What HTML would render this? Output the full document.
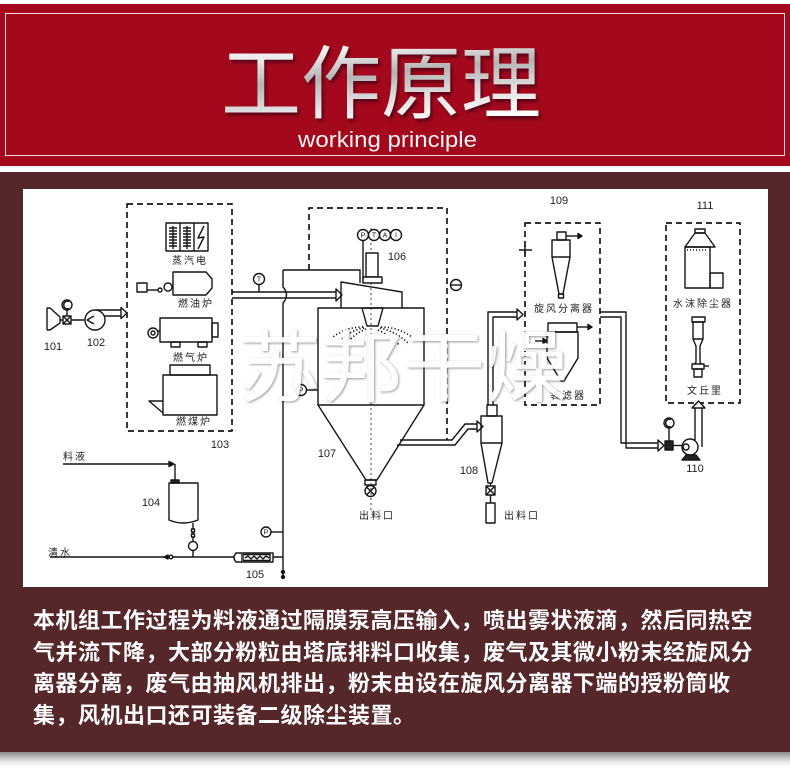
<!DOCTYPE html>
<html><head><meta charset="utf-8">
<style>
html,body{margin:0;padding:0;width:790px;height:768px;overflow:hidden;background:#fff;}
.t{position:absolute;left:33px;top:605px;color:#fff;font-family:"Liberation Sans","Noto Sans CJK SC",sans-serif;font-weight:bold;font-size:22px;letter-spacing:0.5px;line-height:31.7px;white-space:nowrap;}
</style></head><body>
<svg width="790" height="768" viewBox="0 0 790 768" style="position:absolute;left:0;top:0">
<defs>
<linearGradient id="sv" x1="0" y1="0" x2="0.25" y2="1">
<stop offset="0" stop-color="#ffffff"/>
<stop offset="0.35" stop-color="#ececec"/>
<stop offset="0.55" stop-color="#b4b4b4"/>
<stop offset="0.8" stop-color="#e6e6e6"/>
<stop offset="1" stop-color="#ffffff"/>
</linearGradient>
<linearGradient id="sh" x1="0" y1="0" x2="0" y2="1"><stop offset="0" stop-color="#8a8a8a"/><stop offset="0.6" stop-color="#e8e8e8"/><stop offset="1" stop-color="#fff"/></linearGradient>
<filter id="ds" x="-10%" y="-10%" width="130%" height="130%"><feDropShadow dx="2" dy="3" stdDeviation="1.5" flood-color="#3a0008" flood-opacity="0.7"/></filter>
<filter id="wm" x="-10%" y="-10%" width="130%" height="130%"><feDropShadow dx="1" dy="1" stdDeviation="1.2" flood-color="#000" flood-opacity="0.45"/></filter>
</defs>
<rect x="0" y="0" width="790" height="768" fill="#fff"/>
<rect x="0" y="4" width="790" height="162" fill="#a3081d"/>
<rect x="5.5" y="13.5" width="779" height="142" fill="none" stroke="#f3d6da" stroke-width="1"/>
<text x="221" y="112" font-family="Noto Sans CJK SC, sans-serif" font-size="80" fill="url(#sv)" filter="url(#ds)" textLength="320" lengthAdjust="spacingAndGlyphs">工作原理</text>
<text x="298" y="147" font-family="Liberation Sans, sans-serif" font-size="22" fill="#f5f5f5" textLength="179" lengthAdjust="spacingAndGlyphs">working principle</text>
<rect x="0" y="172" width="790" height="580" fill="#55272a"/>
<rect x="0" y="752" width="790" height="16" fill="url(#sh)"/>
<rect x="23" y="189" width="745" height="398" fill="#fff"/>

<g stroke="#151515" stroke-width="1.4" fill="none" stroke-linejoin="round">
<g stroke-dasharray="6 4" stroke-width="1.7">
<rect x="127" y="204" width="105" height="227"/>
<path d="M309,270 V208 H447 V440"/>
<rect x="525" y="223" width="75" height="182"/>
<rect x="666" y="223" width="74" height="180"/>
</g>

<rect x="166" y="223" width="42" height="28"/>
<line x1="180" y1="223" x2="180" y2="251"/>
<line x1="194" y1="223" x2="194" y2="251"/>
<path d="M173,226 V249 M169,228 H177 M169,231 H177 M169,234 H177 M169,237 H177 M169,240 H177 M169,243 H177 M169,246 H177"/>
<path d="M187,226 V249 M183,228 H191 M183,231 H191 M183,234 H191 M183,237 H191 M183,240 H191 M183,243 H191 M183,246 H191"/>
<path d="M204,226 L198,238 L204,237 L198,249"/>

<rect x="137" y="283" width="10" height="9"/>
<line x1="147" y1="290" x2="158" y2="290"/>
<circle cx="160" cy="290" r="2"/>
<circle cx="168" cy="287" r="4"/>
<path d="M173,272 H206 L212,279 V288 L206,295 H173 Z"/>

<rect x="160" y="318" width="52" height="24"/>
<rect x="212" y="323" width="6" height="14"/>
<circle cx="153" cy="333" r="5"/><circle cx="153" cy="333" r="2"/>
<line x1="158" y1="331" x2="160" y2="331"/>
<rect x="171" y="342" width="9" height="5"/><rect x="198" y="342" width="9" height="5"/>

<rect x="170" y="365" width="40" height="10"/>
<rect x="163" y="375" width="54" height="40"/>
<path d="M163,401 H149 L163,413"/>

<path d="M47,308 V330 M47,308 H50 L60,317 V323 L50,330 H47"/>
<line x1="60" y1="320" x2="85" y2="320"/>
<line x1="67" y1="310" x2="67" y2="316"/>
<rect x="63" y="316" width="8" height="8" fill="#fff"/>
<path d="M63,316 L71,324 M71,316 L63,324"/>
<circle cx="67" cy="305" r="5"/>
<path d="M69,301.5 A3.8,3.8 0 1 0 69,308.5"/>
<circle cx="95" cy="320" r="10" fill="#fff"/>
<path d="M87,320 L94,316 M87,320 L94,324"/>
<path d="M96,310 H122 M104,316 H122"/>
<polygon points="121,307.5 127,313 121,318.5" fill="#fff"/>

<path d="M283,270 V287 Q290,295 283,303 V577"/>
<path d="M232,292 H336 M232,298 H336"/>
<polygon points="336,289 342,295 336,301" fill="#fff"/>
<line x1="259" y1="284.5" x2="259" y2="292"/>
<circle cx="259" cy="279" r="5.5" fill="#fff"/>
<path d="M283,270 H360 V283"/>
<circle cx="456" cy="285" r="5.5" fill="#fff"/>
<line x1="451" y1="285" x2="461" y2="285"/>

<path d="M341,308 V282 L402,292 V308"/>
<rect x="318" y="308" width="106" height="97"/>
<path d="M318,405 L366,480 H377 L424,405"/>
<rect x="365" y="480" width="11" height="5"/>
<circle cx="370.5" cy="491" r="5.5" fill="#fff"/>
<path d="M366.5,487 L374.5,495 M374.5,487 L366.5,495"/>
<line x1="371" y1="228" x2="371" y2="512" stroke-dasharray="2 3" stroke-width="0.8"/>
<line x1="363" y1="240" x2="363" y2="283"/>
<rect x="366" y="253" width="12" height="24" fill="#fff"/>
<rect x="363" y="277" width="19" height="6" fill="#fff"/>
<circle cx="363" cy="235" r="5.5" fill="#fff"/>
<circle cx="374" cy="235" r="5.5" fill="#fff"/>
<circle cx="385" cy="235" r="5.5" fill="#fff"/>
<circle cx="396" cy="235" r="5.5" fill="#fff"/>
<polygon points="362,308 383,308 378,326 367,326"/>
<g stroke-dasharray="1.2 2.2" stroke-width="1.7">
<path d="M364,328 Q350,330 338,343"/>
<path d="M366,329 Q354,334 345,345"/>
<path d="M363,327 Q346,327 333,337"/>
<path d="M380,328 Q395,331 408,343"/>
<path d="M378,330 Q391,336 400,346"/>
<path d="M381,327 Q398,327 412,337"/>
</g>
<line x1="306.5" y1="390" x2="318" y2="390"/>
<circle cx="301" cy="390" r="5.5" fill="#fff"/>

<path d="M400,440 H452 L465,424 H477"/>
<path d="M397,445 H455 L468,429 H477"/>
<polygon points="477,421 483,426.5 477,432" fill="#fff"/>

<path d="M488,405 V312 H517"/>
<path d="M493,405 V317 H517"/>
<polygon points="517,309 523,314.5 517,320" fill="#fff"/>
<rect x="487" y="405" width="10" height="11" fill="#fff"/>
<rect x="481" y="416" width="21" height="27"/>
<path d="M481,443 L488,483 H492 L502,443"/>
<rect x="486" y="486" width="9" height="9"/>
<path d="M486,486 L495,495 M495,486 L486,495"/>
<line x1="490.5" y1="483" x2="490.5" y2="486"/>
<line x1="490.5" y1="495" x2="490.5" y2="503"/>
<rect x="486" y="503" width="9" height="20"/>

<path d="M519,250 H532 M525,246 V254"/>
<rect x="557" y="232" width="9" height="8"/>
<line x1="566" y1="236" x2="578" y2="236"/>
<polygon points="578,233.5 582,236 578,238.5" fill="#151515"/>
<rect x="552" y="240" width="18" height="17"/>
<path d="M552,257 L559,294 H563 L570,257"/>
<rect x="558.5" y="294" width="5" height="4"/>
<rect x="548" y="323" width="29" height="9"/>
<path d="M547,332 H578 V358 L564,381 H561 L547,358 Z"/>
<line x1="577" y1="327" x2="588" y2="327"/>
<polygon points="588,324.5 592,327 588,329.5" fill="#151515"/>
<line x1="535" y1="341" x2="543" y2="341"/>
<polygon points="543,338.5 547,341 543,343.5" fill="#151515"/>

<path d="M600,312 H626 V448 H658"/>
<path d="M600,317 H621 V443 H658"/>
<polygon points="658,440 664,445.5 658,451" fill="#fff"/>
<line x1="669" y1="428" x2="669" y2="441"/>
<circle cx="669" cy="423" r="5" fill="#fff"/>
<path d="M671,419.5 A3.8,3.8 0 1 0 671,426.5"/>
<rect x="665" y="441" width="8" height="9" fill="#222"/>
<line x1="673" y1="445.5" x2="682" y2="445.5"/>
<path d="M695,440 V408 M702,447 V408"/>
<polygon points="692,408 698.5,401 705,408" fill="#fff"/>
<circle cx="690" cy="447" r="8" fill="#fff"/>
<circle cx="686" cy="447" r="3"/>
<path d="M682,460 L686,455 H696 L700,460 Z" fill="#222"/>

<rect x="695" y="229" width="10" height="4"/>
<polygon points="695,233 705,233 715,247 685,247"/>
<rect x="685" y="247" width="25" height="41"/>
<rect x="710" y="273" width="13" height="15"/>
<line x1="687" y1="250" x2="708" y2="250" stroke-dasharray="1 2"/>
<rect x="692" y="317" width="13" height="5"/>
<rect x="693" y="322" width="10" height="17"/>
<path d="M693,339 L696,346 V362 L693,367 M703,339 L700,346 V362 L703,367"/>
<rect x="692" y="364" width="12" height="5" fill="#fff"/>
<rect x="694" y="369" width="8" height="8"/>
<line x1="704" y1="366" x2="709" y2="366"/>

<line x1="63" y1="464" x2="171" y2="464"/>
<polygon points="169,461.5 174,464 169,466.5" fill="#151515"/>
<line x1="175" y1="464" x2="175" y2="481"/>
<rect x="171" y="480" width="8" height="3" fill="#222"/>
<path d="M169,483 H198 V520 Q183,526 169,520 Z"/>
<line x1="193" y1="523" x2="193" y2="557"/>
<rect x="191.5" y="529" width="3" height="3" fill="#fff"/>
<rect x="191.5" y="534" width="3" height="3" fill="#fff"/>
<circle cx="193" cy="546" r="4.5" fill="#fff"/>
<line x1="50" y1="557" x2="283" y2="557"/>
<polygon points="164,557 168,555 168,559" fill="#151515"/>
<circle cx="171" cy="557" r="1.8" fill="#fff"/>
<path d="M241,553 H273 V562 H241 Z" fill="#fff"/>
<path d="M241,553 H236 Q232,557.5 236,562 H241" fill="#fff"/>
<rect x="243" y="554.5" width="27" height="6"/>
<path d="M245,558 L248,556 L251,559 L254,556 L257,559 L260,556 L263,559 L266,556 L269,558"/>
<line x1="271" y1="532" x2="283" y2="532"/>
<circle cx="266" cy="532" r="5" fill="#fff"/>
<circle cx="283" cy="572" r="1.5" fill="#151515"/>
<circle cx="283" cy="577" r="1.5" fill="#151515"/>
</g>

<g font-family="Liberation Sans, sans-serif" font-size="7" fill="#151515" text-anchor="middle">
<text x="259" y="281.5">T</text>
<text x="363" y="237.5">P</text>
<text x="374" y="237.5">T</text>
<text x="385" y="237.5">A</text>
<text x="396" y="237.5">I</text>
<text x="301" y="392.5">P</text>
<text x="266" y="534.5">P</text>
</g>

<g font-family="Liberation Sans, sans-serif" font-size="11" fill="#222" text-anchor="middle">
<text x="53" y="350">101</text>
<text x="96" y="346">102</text>
<text x="220" y="448">103</text>
<text x="151" y="506">104</text>
<text x="255" y="578">105</text>
<text x="397" y="260">106</text>
<text x="327" y="457">107</text>
<text x="469" y="474">108</text>
<text x="559" y="204">109</text>
<text x="695" y="472">110</text>
<text x="705" y="209">111</text>
</g>

<g font-family="Liberation Sans, Noto Sans CJK SC, sans-serif" font-size="10" fill="#222" text-anchor="middle" letter-spacing="2">
<text x="190" y="264">蒸汽电</text>
<text x="196" y="307">燃油炉</text>
<text x="191" y="361">燃气炉</text>
<text x="194" y="425">燃煤炉</text>
<text x="377" y="519">出料口</text>
<text x="522" y="519">出料口</text>
<text x="564" y="312">旋风分离器</text>
<text x="568" y="399">袋滤器</text>
<text x="703" y="307">水沫除尘器</text>
<text x="705" y="394">文丘里</text>
<text x="75" y="460">料液</text>
<text x="60" y="556">清水</text>
</g>

<text x="238" y="395" font-family="Noto Sans CJK SC, sans-serif" font-size="78" fill="#ffffff" opacity="0.93" filter="url(#wm)" textLength="330" lengthAdjust="spacingAndGlyphs">苏邦干燥</text>
</svg>
<div class="t">本机组工作过程为料液通过隔膜泵高压输入，喷出雾状液滴，然后同热空<br>气并流下降，大部分粉粒由塔底排料口收集，废气及其微小粉末经旋风分<br>离器分离，废气由抽风机排出，粉末由设在旋风分离器下端的授粉筒收<br>集，风机出口还可装备二级除尘装置。</div>
</body></html>
